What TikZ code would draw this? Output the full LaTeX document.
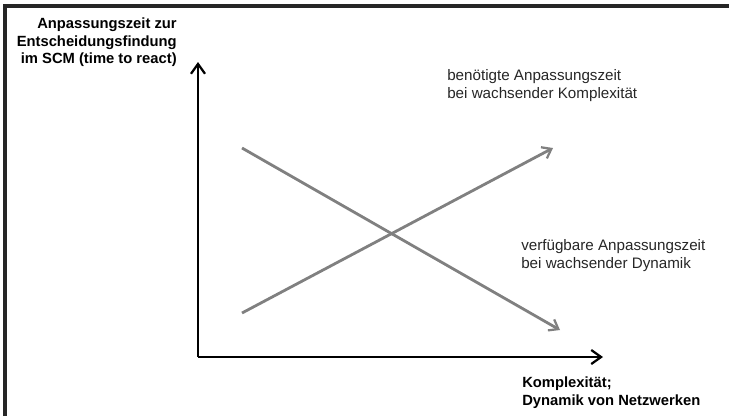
\documentclass[tikz,border=0pt]{standalone}
\usepackage{fontspec}
\setmainfont{Liberation Sans}
\usetikzlibrary{arrows.meta}
\definecolor{lgline}{HTML}{808080}
\definecolor{lgtext}{HTML}{262626}

\begin{document}
\begin{tikzpicture}[x=0.025cm,y=-0.025cm,
  axis/.style={line width=2pt,black,-{Straight Barb[length=7pt,width=10pt,line width=1.6pt]}},
  trend/.style={line width=2pt,lgline,-{Straight Barb[length=6pt,width=9pt,line width=1.6pt]}},
  axlabel/.style={inner sep=0pt,font=\fontsize{10.5}{12.4}\selectfont\bfseries},
  curvelabel/.style={inner sep=0pt,align=left,text=lgtext,font=\fontsize{10.8}{12.4}\selectfont}]
\useasboundingbox (0,0) rectangle (729,416);
% frame, only top and left are visible
\draw[line width=2.2pt,black!85] (5,416) -- (5,6) -- (729,6);
% axes
\coordinate (origin) at (198,357);
\coordinate (ytip) at (198,62);
\coordinate (xtip) at (603,357);
\draw[axis] (origin) -- (ytip);
\draw[axis] (origin) -- (xtip);
% trend lines
\coordinate (dstart) at (242,148);\coordinate (dend) at (560,330);
\coordinate (istart) at (242,313);\coordinate (iend) at (553,148);
\draw[trend] (dstart) -- (dend);
\draw[trend] (istart) -- (iend);
% labels
\node[axlabel,align=right,anchor=north east] (ylab) at (177,18) {Anpassungszeit zur\\Entscheidungsfindung\\im SCM (time to react)};
\node[axlabel,align=left,anchor=north west] (xlab) at (522,377) {Komplexität;\\Dynamik von Netzwerken};
\node[curvelabel,anchor=north west] (ilab) at (447,69.5) {benötigte Anpassungszeit\\bei wachsender Komplexität};
\node[curvelabel,anchor=north west] (dlab) at (521,239.5) {verfügbare Anpassungszeit\\bei wachsender Dynamik};
\end{tikzpicture}
\end{document}
